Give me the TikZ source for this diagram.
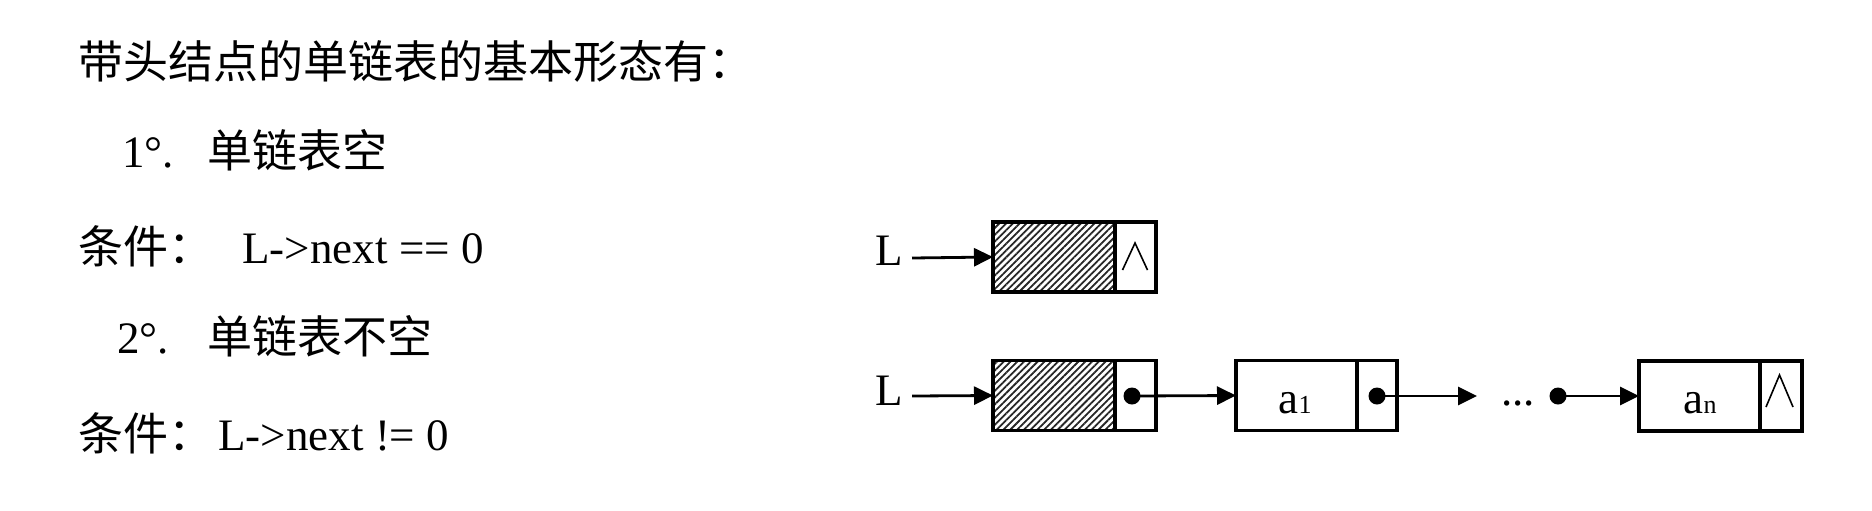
\documentclass[tikz,border=0pt]{standalone}
\usepackage{fontspec}
\setmainfont{Liberation Serif}
\newfontfamily\cjk{Noto Sans CJK SC}
\usetikzlibrary{arrows.meta,patterns.meta}
\newcommand{\subtxt}[1]{{\fontsize{13}{13}\selectfont #1}}
\begin{document}
\begin{tikzpicture}[x=0.5pt,y=-0.5pt,
  txt/.style={inner sep=0pt,anchor=base west,font=\fontsize{22.5}{27}\selectfont},
  ctxt/.style={inner sep=0pt,anchor=base,font=\fontsize{22.5}{27}\selectfont},
  cell/.style={draw,line width=1.6pt,inner sep=0pt,outer sep=0pt,minimum height=35pt},
  hatched/.style={cell,pattern={Lines[angle=45,distance=2.4pt,line width=0.9pt]},pattern color=black!85},
  arr/.style={line width=1.4pt,-{Triangle[length=9.5pt,width=9pt]}},
  nullmark/.style={line width=0.8pt,line join=miter},
  ptrdot/.style={circle,fill,inner sep=0pt,minimum size=8.5pt}]
\useasboundingbox (0,0) rectangle (1872,510);

% left column text
\node[txt] (t1) at (78,78) {\cjk 带头结点的单链表的基本形态有：};
\node[txt] (t2a) at (122,167) {1°.};
\node[txt] (t2b) at (207,167) {\cjk 单链表空};
\node[txt] (t3a) at (78,263) {\cjk 条件：};
\node[txt] (t3b) at (242,263) {L->next == 0};
\node[txt] (t4a) at (117,353) {2°.};
\node[txt] (t4b) at (207,353) {\cjk 单链表不空};
\node[txt] (t5a) at (78,450) {\cjk 条件：};
\node[txt] (t5b) at (218,450) {L->next != 0};

% row 1: empty list
\node[txt] (L1) at (875,265) {L};
\node[hatched,minimum width=61pt] (h1) at (1054,257) {};
\node[cell,minimum width=20.5pt] (n1) at (1135.5,257) {};
\coordinate (L1s) at (912,258);
\draw[arr] (L1s) -- (h1.west);
\draw[nullmark] ([shift={(-13,13)}]n1.center) -- ([shift={(-0.5,-14)}]n1.center) -- ([shift={(12,13)}]n1.center);

% row 2: non-empty list
\node[txt] (L2) at (875,405) {L};
\node[hatched,minimum width=61pt] (h2) at (1054,395.5) {};
\node[cell,minimum width=20.5pt] (p2) at (1135.5,395.5) {};
\coordinate (L2s) at (912,396);
\draw[arr] (L2s) -- (h2.west);

\node[cell,minimum width=60.5pt] (a1) at (1296.5,395.5) {};
\node[cell,minimum width=20pt] (q1) at (1377,395.5) {};
\node[ctxt] (a1t) at (1295,413) {a\subtxt{1}};

\node[cell,minimum width=60.5pt] (an) at (1699.5,396) {};
\node[cell,minimum width=21pt] (qn) at (1781,396) {};
\node[ctxt] (ant) at (1700,413) {a\subtxt{n}};
\draw[nullmark] ([shift={(-15,11)}]qn.center) -- ([shift={(-1.5,-21)}]qn.center) -- ([shift={(12,11)}]qn.center);

\node[ptrdot] (d1) at (1132,396) {};
\node[ptrdot] (d2) at (1377,396) {};
\node[ptrdot] (d3) at (1558,396) {};
\draw[arr] (d1.center) -- (a1.west);
\coordinate (e2) at (1477,396);
\draw[arr] (d2.center) -- (e2);
\node[ctxt] (dots) at (1518,405) {...};
\draw[arr] (d3.center) -- (an.west);
\end{tikzpicture}
\end{document}
